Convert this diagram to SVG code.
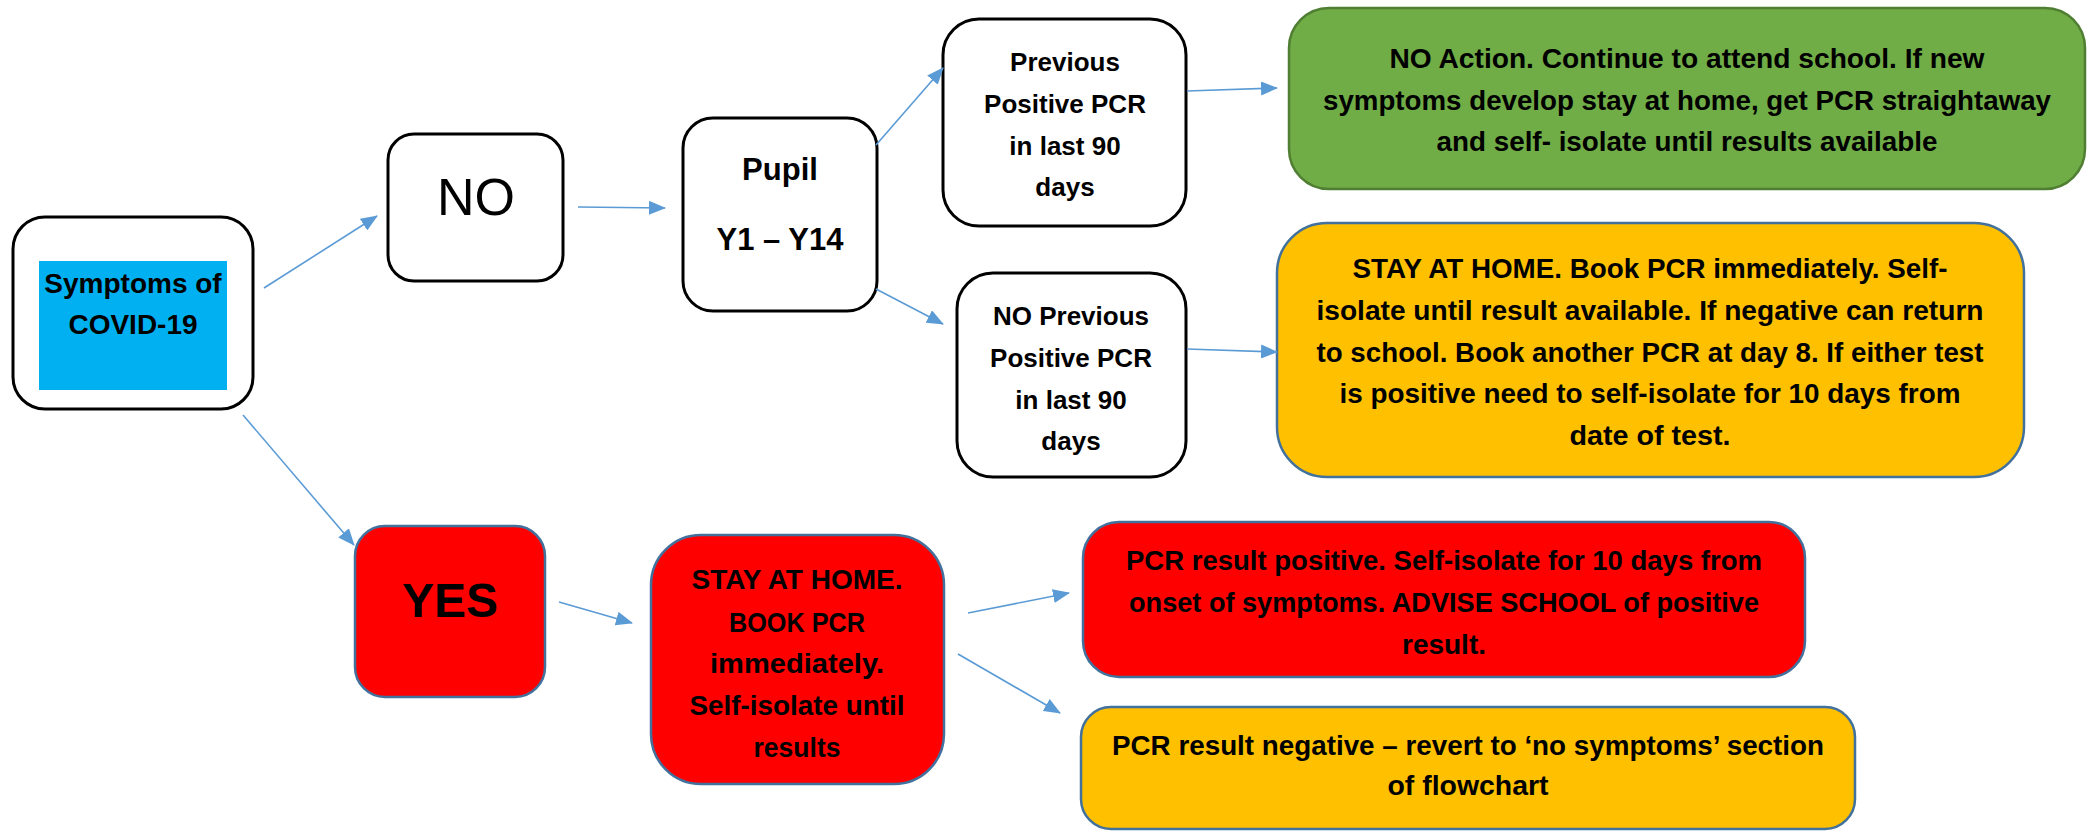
<svg xmlns="http://www.w3.org/2000/svg" width="2089" height="832" viewBox="0 0 2089 832">
<style>
  text { font-family: "Liberation Sans", Arial, sans-serif; font-weight: bold; text-anchor: middle; fill: #000; }
  .wbox { fill: #fff; stroke: #000; stroke-width: 3; }
  .green { fill: #70AD47; stroke: #507E32; stroke-width: 2.5; }
  .yellow { fill: #FFC000; stroke: #41719C; stroke-width: 2.5; }
  .red { fill: #FF0000; stroke: #41719C; stroke-width: 2.5; }
  .t26 { font-size: 26px; }
  .t27 { font-size: 27px; }
  .conn line { stroke: #5B9BD5; stroke-width: 1.6; marker-end: url(#arr); }
</style>
<defs>
  <marker id="arr" markerWidth="17" markerHeight="14" refX="16" refY="7" orient="auto" markerUnits="userSpaceOnUse">
    <path d="M0,0 L17,7 L0,14 z" fill="#5B9BD5"/>
  </marker>
</defs>
<rect width="2089" height="832" fill="#fff"/>

<g id="symptoms">
  <rect class="wbox" x="13" y="217" width="240" height="192" rx="32"/>
  <rect x="39" y="261" width="188" height="129" fill="#00B0F0"/>
  <text x="133" y="293" style="font-size:28px">Symptoms of</text>
  <text x="133" y="334" style="font-size:28px">COVID-19</text>
</g>

<g id="no">
  <rect class="wbox" x="388" y="134" width="175" height="147" rx="26"/>
  <text x="476" y="215" style="font-size:52px;font-weight:normal">NO</text>
</g>

<g id="pupil">
  <rect class="wbox" x="683" y="118" width="194" height="193" rx="30"/>
  <text x="780" y="180" style="font-size:31px">Pupil</text>
  <text x="780" y="250" style="font-size:31px">Y1 – Y14</text>
</g>

<g id="previous">
  <rect class="wbox" x="943" y="19" width="243" height="207" rx="36"/>
  <text class="t26" x="1065" y="71">Previous</text>
  <text class="t26" x="1065" y="113">Positive PCR</text>
  <text class="t26" x="1065" y="155">in last 90</text>
  <text class="t26" x="1065" y="196">days</text>
</g>

<g id="no-previous">
  <rect class="wbox" x="957" y="273" width="229" height="204" rx="36"/>
  <text class="t26" x="1071" y="325">NO Previous</text>
  <text class="t26" x="1071" y="367">Positive PCR</text>
  <text class="t26" x="1071" y="409">in last 90</text>
  <text class="t26" x="1071" y="450">days</text>
</g>

<g id="no-action">
  <rect class="green" x="1289" y="8" width="796" height="181" rx="40"/>
  <text class="t27" x="1687" y="68" textLength="595" lengthAdjust="spacingAndGlyphs">NO Action. Continue to attend school. If new</text>
  <text class="t27" x="1687" y="110" textLength="728" lengthAdjust="spacingAndGlyphs">symptoms develop stay at home, get PCR straightaway</text>
  <text class="t27" x="1687" y="151" textLength="501" lengthAdjust="spacingAndGlyphs">and self- isolate until results available</text>
</g>

<g id="stay-home-book">
  <rect class="yellow" x="1277" y="223" width="747" height="254" rx="50"/>
  <text class="t27" x="1650" y="278" textLength="595" lengthAdjust="spacingAndGlyphs">STAY AT HOME. Book PCR immediately. Self-</text>
  <text class="t27" x="1650" y="320" textLength="667" lengthAdjust="spacingAndGlyphs">isolate until result available. If negative can return</text>
  <text class="t27" x="1650" y="362" textLength="667" lengthAdjust="spacingAndGlyphs">to school. Book another PCR at day 8. If either test</text>
  <text class="t27" x="1650" y="403" textLength="621" lengthAdjust="spacingAndGlyphs">is positive need to self-isolate for 10 days from</text>
  <text class="t27" x="1650" y="445" textLength="161" lengthAdjust="spacingAndGlyphs">date of test.</text>
</g>

<g id="yes">
  <rect class="red" x="355" y="526" width="190" height="171" rx="30"/>
  <text x="450" y="617" style="font-size:48px">YES</text>
</g>

<g id="stay-home-red">
  <rect class="red" x="651" y="535" width="293" height="249" rx="50"/>
  <text class="t27" x="797" y="589" textLength="211" lengthAdjust="spacingAndGlyphs">STAY AT HOME.</text>
  <text class="t27" x="797" y="632" textLength="136" lengthAdjust="spacingAndGlyphs">BOOK PCR</text>
  <text class="t27" x="797" y="673" textLength="174" lengthAdjust="spacingAndGlyphs">immediately.</text>
  <text class="t27" x="797" y="715" textLength="215" lengthAdjust="spacingAndGlyphs">Self-isolate until</text>
  <text class="t27" x="797" y="757" textLength="87" lengthAdjust="spacingAndGlyphs">results</text>
</g>

<g id="pcr-positive">
  <rect class="red" x="1083" y="522" width="722" height="155" rx="36"/>
  <text class="t27" x="1444" y="570" textLength="636" lengthAdjust="spacingAndGlyphs">PCR result positive. Self-isolate for 10 days from</text>
  <text class="t27" x="1444" y="612" textLength="630" lengthAdjust="spacingAndGlyphs">onset of symptoms. ADVISE SCHOOL of positive</text>
  <text class="t27" x="1444" y="654" textLength="84" lengthAdjust="spacingAndGlyphs">result.</text>
</g>

<g id="pcr-negative">
  <rect class="yellow" x="1081" y="707" width="774" height="122" rx="30"/>
  <text class="t27" x="1468" y="755" textLength="712" lengthAdjust="spacingAndGlyphs">PCR result negative – revert to ‘no symptoms’ section</text>
  <text class="t27" x="1468" y="795" textLength="161" lengthAdjust="spacingAndGlyphs">of flowchart</text>
</g>

<g id="connectors" class="conn">
  <line x1="264" y1="288" x2="377" y2="216"/>
  <line x1="243" y1="415" x2="354" y2="545"/>
  <line x1="578" y1="207" x2="665" y2="208"/>
  <line x1="876" y1="145" x2="943" y2="68"/>
  <line x1="876" y1="289" x2="943" y2="324"/>
  <line x1="1187" y1="91" x2="1277" y2="88"/>
  <line x1="1187" y1="349" x2="1277" y2="352"/>
  <line x1="559" y1="602" x2="632" y2="623"/>
  <line x1="968" y1="613" x2="1069" y2="593"/>
  <line x1="958" y1="654" x2="1060" y2="713"/>
</g>
</svg>
